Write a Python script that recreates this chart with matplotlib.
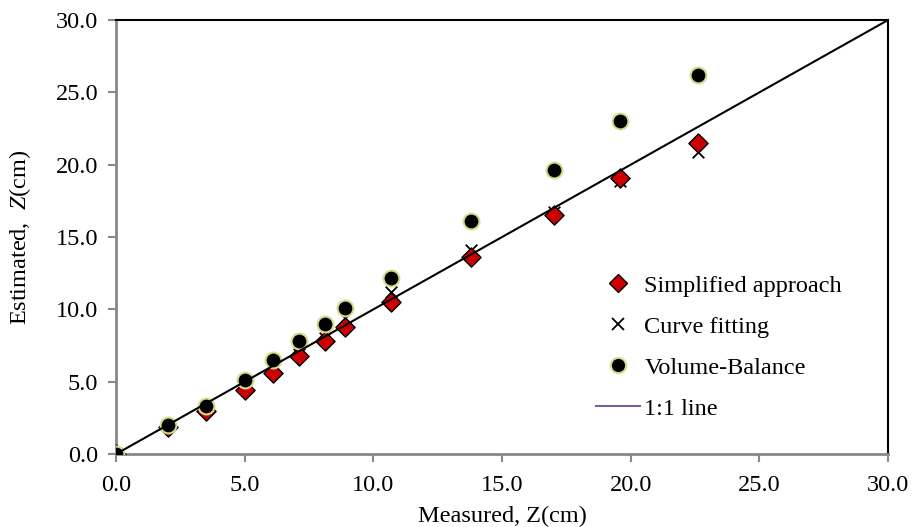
import matplotlib
matplotlib.use('Agg')
import matplotlib.pyplot as plt
from matplotlib.lines import Line2D

plt.rcParams['font.family'] = ['Liberation Serif', 'DejaVu Serif']
plt.rcParams['mathtext.fontset'] = 'custom'
plt.rcParams['mathtext.it'] = 'Liberation Serif:italic'
plt.rcParams['mathtext.rm'] = 'Liberation Serif'

# measured depth Z (cm)
measured = [0.0, 2.0, 3.5, 5.0, 6.1, 7.1, 8.1, 8.9, 10.7, 13.8, 17.0, 19.6, 22.6]
# estimated depth by each method
simplified = [0.0, 1.9, 3.0, 4.4, 5.6, 6.8, 7.8, 8.8, 10.5, 13.6, 16.5, 19.1, 21.5]
curve_fit = [0.0, 2.0, 3.3, 4.8, 5.8, 6.9, 8.0, 9.4, 11.2, 14.1, 16.7, 18.9, 20.9]
volume_bal = [0.0, 2.0, 3.3, 5.1, 6.5, 7.8, 9.0, 10.1, 12.2, 16.1, 19.6, 23.0, 26.2]
one_to_one = [0.0, 30.0]

ticks = [0, 5, 10, 15, 20, 25, 30]

fig = plt.figure(figsize=(9.14, 5.27), dpi=100)
ax = fig.add_axes([0.127, 0.1385, 0.8446, 0.8235])

ax.scatter(measured, curve_fit, marker='x', s=70, color='black', lw=1.3, zorder=2)
ax.scatter(measured, simplified, marker='D', s=95, facecolor='#cc0000',
           edgecolor='black', lw=1.0, zorder=3)
ax.scatter(measured, volume_bal, marker='o', s=130, facecolor='black',
           edgecolor='#d4dc8c', lw=1.5, zorder=4)
ax.plot(one_to_one, one_to_one, color='black', lw=1.5, zorder=5)

ax.set_xlim(0, 30)
ax.set_ylim(0, 30)
ax.set_xticks(ticks)
ax.set_yticks(ticks)
ax.set_xticklabels([f"{t:.1f}" for t in ticks])
ax.set_yticklabels([f"{t:.1f}" for t in ticks])
ax.tick_params(labelsize=17.5, color='#888888', length=6, width=1.5)
ax.tick_params(axis='x', pad=9)
ax.tick_params(axis='y', pad=7)

for side in ['left', 'bottom']:
    ax.spines[side].set_color('#888888')
    ax.spines[side].set_linewidth(2)
for side in ['top', 'right']:
    ax.spines[side].set_color('black')
    ax.spines[side].set_linewidth(1.5)

ax.set_xlabel("Measured, Z(cm)", fontsize=17.5, labelpad=7)
ax.set_ylabel(r"Estimated,  $\mathit{Z}$(cm)", fontsize=17.5, labelpad=16)

handles = [
    Line2D([], [], marker='D', ls='none', ms=9, mfc='#cc0000', mec='black', mew=1.0),
    Line2D([], [], marker='x', ls='none', ms=9, color='black', mew=1.3),
    Line2D([], [], marker='o', ls='none', ms=11, mfc='black', mec='#d4dc8c', mew=1.5),
    Line2D([], [], color='#7a60a0', lw=1.5),
]
labels = ["Simplified approach", "Curve fitting", "Volume-Balance", "1:1 line"]
ax.legend(handles, labels, loc='upper left', bbox_to_anchor=(0.628, 0.52),
          bbox_transform=fig.transFigure, frameon=False, fontsize=17.5,
          handlelength=1.8, handletextpad=0.2, labelspacing=0.78)

fig.savefig('out.png', dpi=100)
